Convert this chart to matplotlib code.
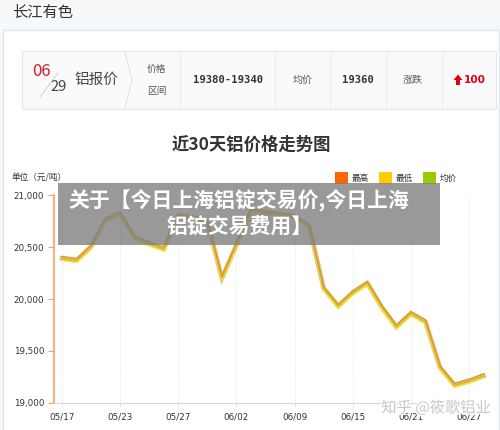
import matplotlib
matplotlib.use("Agg")
import matplotlib.pyplot as plt
from matplotlib.patches import Rectangle, Polygon
from matplotlib.lines import Line2D
import matplotlib.patheffects as pe

plt.rcParams['font.family'] = ['Noto Sans CJK SC', 'DejaVu Sans']

# ---------------- data ----------------
dates = ["05/17", "05/18", "05/19", "05/20", "05/23", "05/24", "05/25", "05/26",
         "05/27", "05/30", "05/31", "06/01", "06/02", "06/06", "06/07", "06/08",
         "06/09", "06/10", "06/13", "06/14", "06/15", "06/16", "06/17", "06/20",
         "06/21", "06/22", "06/23", "06/24", "06/27", "06/28"]
avg_price = [20390, 20370, 20500, 20760, 20820, 20590, 20530, 20480,
             20800, 20780, 20740, 20200, 20520, 20850, 20830, 20810,
             20790, 20700, 20100, 19930, 20060, 20150, 19920, 19730,
             19860, 19780, 19340, 19170, 19210, 19260]
high_price = [v + 20 for v in avg_price]
low_price = [v - 20 for v in avg_price]
tick_labels = ["05/17", "05/23", "05/27", "06/02", "06/09", "06/15", "06/21", "06/27"]
y_ticks = [19000, 19500, 20000, 20500, 21000]
series_names = ["最高", "最低", "均价"]
series_colors = ["#FF6600", "#FFCC00", "#99CC00"]

W, H = 500, 430
fig = plt.figure(figsize=(W / 100, H / 100), dpi=100)
fig.patch.set_facecolor("#F7F8FA")


def fx(x):
    return x / W


def fy(y):
    return 1 - y / H


def T(x, y, s, **kw):
    kw.setdefault("ha", "left")
    kw.setdefault("va", "center")
    fig.text(fx(x), fy(y), s, **kw)


def R(x0, y0, x1, y1, **kw):
    kw.setdefault("zorder", -5)
    fig.patches.append(Rectangle((fx(x0), fy(y1)), fx(x1 - x0), (y1 - y0) / H,
                                 transform=fig.transFigure, **kw))


def L(xs, ys, **kw):
    kw.setdefault("zorder", -4)
    fig.lines.append(Line2D([fx(v) for v in xs], [fy(v) for v in ys],
                            transform=fig.transFigure, **kw))


# page title
T(12, 13, "长江有色", fontsize=11, color="#333333")
# outer panel
R(3, 30, 499, 432, facecolor="#FFFFFF", edgecolor="#DCE8EF", lw=1.0, zorder=-6)
# quote box
R(22, 51, 496, 109, facecolor="#FAFAFC", edgecolor="#E6E6EA", lw=0.8)
T(32, 72, "06", fontsize=12, color="#CC2020")
L([40, 58], [97, 73], color="#CCCCCC", lw=0.6)
T(50, 87, "29", fontsize=10.5, color="#444444")
T(75, 80, "铝报价", fontsize=10.5, color="#444444")
L([125, 132, 125], [52, 80, 108], color="#E4E4E8", lw=0.8)
T(147, 69, "价格", fontsize=7, color="#555555")
T(147, 91, "区间", fontsize=7, color="#555555")
for sx in [180, 275, 330, 386, 442]:
    L([sx, sx], [52, 108], color="#EDEDF0", lw=0.8)
T(228, 80, "19380-19340", fontsize=7.6, color="#333333", ha="center",
  family="DejaVu Sans Mono", fontweight="bold")
T(303, 80, "均价", fontsize=7.2, color="#555555", ha="center")
T(358, 80, "19360", fontsize=7.6, color="#333333", ha="center",
  family="DejaVu Sans Mono", fontweight="bold")
T(413, 80, "涨跌", fontsize=7.2, color="#555555", ha="center")
# red up arrow
fig.patches.append(Polygon([(fx(458), fy(74.5)), (fx(462.5), fy(80)), (fx(460), fy(80)),
                            (fx(460), fy(85)), (fx(456), fy(85)), (fx(456), fy(80)),
                            (fx(453.5), fy(80))], closed=True, transform=fig.transFigure,
                           facecolor="#E00010", edgecolor="none"))
T(464, 80, "100", fontsize=7.6, color="#E00010", family="DejaVu Sans", fontweight="bold")

# chart title
T(251, 145, "近30天铝价格走势图", fontsize=12.5, color="#333333", ha="center",
  fontweight="bold")
T(12, 178, "单位（元/吨）", fontsize=6.2, color="#333333")

# legend
lx = [335, 379, 423]
for xx, name, c in zip(lx, series_names, series_colors):
    R(xx, 172, xx + 13, 184, facecolor=c, edgecolor="none", zorder=2)
    T(xx + 17, 178, name, fontsize=6.2, color="#333333")

# ---------------- axes ----------------
ax_left, ax_right, ax_top, ax_bot = 54, 490, 195, 403
ax = fig.add_axes([fx(ax_left), fy(ax_bot), fx(ax_right - ax_left), (ax_bot - ax_top) / H])
ax.set_zorder(5)
ax.set_facecolor("none")
x = list(range(len(dates)))
px_per = 14.54
ax.set_xlim(-(62 - ax_left) / px_per, (ax_right - 62) / px_per)
ax.set_ylim(19000, 21000)

# soft olive shadow under the band of lines
ax.plot(x, avg_price, color="#B89A1E", lw=3.4, alpha=0.55, zorder=2,
        solid_joinstyle="miter")
ax.plot(x, low_price, color="#FFE23A", lw=0.9, zorder=3)
ax.plot(x, avg_price, color="#D2BC08", lw=0.9, zorder=4)
ax.plot(x, high_price, color="#E59030", lw=0.9, zorder=5)

tick_pos = [dates.index(t) for t in tick_labels]
ax.set_xticks(tick_pos)
ax.set_xticklabels(tick_labels, family="DejaVu Sans", fontsize=6.3, color="#333333")
ax.set_yticks(y_ticks)
ax.set_yticklabels([f"{v:,}" for v in y_ticks], family="DejaVu Sans", fontsize=6.3,
                   color="#333333")
ax.tick_params(axis="y", length=4, width=0.8, color="#F5A35C", pad=3)
ax.tick_params(axis="x", length=3, width=0.6, color="#DDDDDD", pad=4)
for t in tick_pos:
    ax.axvline(t, color="#DADADA", lw=0.6, ls=(0, (1, 2)), zorder=1)

for s in ["top", "right"]:
    ax.spines[s].set_visible(False)
ax.spines["left"].set_color("#F5A35C")
ax.spines["left"].set_linewidth(1.2)
ax.spines["bottom"].set_color("#D8D8D8")
ax.spines["bottom"].set_linewidth(0.8)

# overlay banner
R(58, 183, 440, 245, facecolor="#808080", edgecolor="none", alpha=0.8, zorder=10)
T(239, 201, "关于【今日上海铝锭交易价,今日上海", fontsize=15, color="white",
  fontweight="bold", ha="center", zorder=11)
T(240, 227, "铝锭交易费用】", fontsize=15, color="white",
  fontweight="bold", ha="center", zorder=11)

# watermark
fig.text(fx(436), fy(408), "知乎 @筱歌铝业", fontsize=11, color="#C8C8C8", ha="center",
         va="center", zorder=12,
         path_effects=[pe.withStroke(linewidth=2, foreground="white")])

fig.savefig("out.png", dpi=100, facecolor=fig.get_facecolor())
